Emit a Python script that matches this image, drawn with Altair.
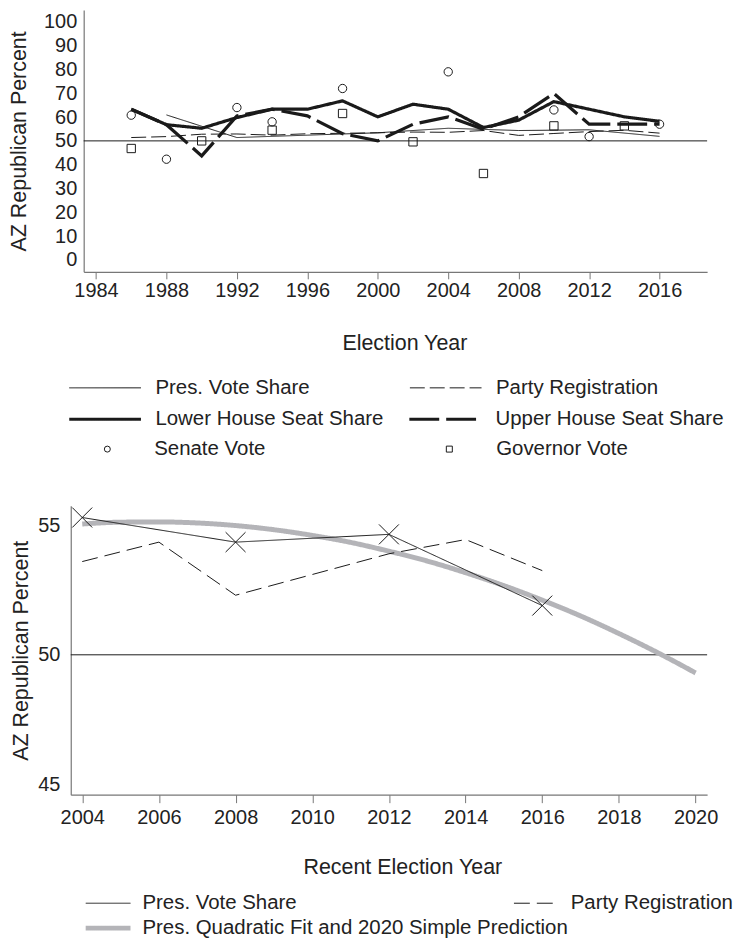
import altair as alt
import pandas as pd

FONT = "Liberation Sans"
INK = "#1a1a1a"
TXT = "#222222"
AXC = "#777777"
GREY = "#b4b4b8"

# ---------------- top panel data ----------------
pres_years = [1988, 1992, 1996, 2000, 2004, 2008, 2012, 2016]
pres_vote = [60.9, 51.4, 52.4, 53.4, 55.3, 54.35, 54.65, 51.9]

two_year = [1986, 1988, 1990, 1992, 1994, 1996, 1998, 2000,
            2002, 2004, 2006, 2008, 2010, 2012, 2014, 2016]
party_reg = [51.4, 51.8, 52.8, 52.9, 52.4, 53.0, 53.2, 53.4,
             53.7, 53.6, 54.35, 52.3, 53.1, 53.9, 54.45, 53.25]
lower_house = [63.3, 56.8, 55.3, 59.8, 63.3, 63.3, 66.8, 60.1,
               65.4, 63.3, 55.6, 58.7, 66.5, 63.3, 60.1, 58.2]
upper_house = [63.3, 56.8, 43.7, 60.5, 63.3, 60.5, 53.0, 50.0,
               57.0, 60.1, 54.9, 60.1, 69.9, 57.0, 57.0, 57.0]

senate_years = [1986, 1988, 1992, 1994, 1998, 2004, 2010, 2012, 2016]
senate_vote = [60.8, 42.3, 64.0, 58.0, 72.0, 79.0, 63.0, 51.8, 57.0]
governor_years = [1986, 1990, 1994, 1998, 2002, 2006, 2010, 2014]
governor_vote = [46.8, 50.0, 54.5, 61.5, 49.6, 36.3, 56.3, 56.3]

thin_names = ["Pres. Vote Share", "Party Registration"]
thick_names = ["Lower House Seat Share", "Upper House Seat Share"]
point_names = ["Senate Vote", "Governor Vote"]
top_year_domain = [1983.3, 2018.7]
top_pct_domain = [-5, 105]
top_year_ticks = [1984, 1988, 1992, 1996, 2000, 2004, 2008, 2012, 2016]
top_pct_ticks = [0, 10, 20, 30, 40, 50, 60, 70, 80, 90, 100]

# ---------------- bottom panel data ----------------
recent_pres_years = [2004, 2008, 2012, 2016]
recent_pres_vote = [55.3, 54.35, 54.65, 51.9]
recent_reg_years = [2004, 2006, 2008, 2010, 2012, 2014, 2016]
recent_reg = [53.6, 54.35, 52.3, 53.1, 53.9, 54.45, 53.25]
fit_years = [2004, 2005, 2006, 2007, 2008, 2009, 2010, 2011, 2012,
             2013, 2014, 2015, 2016, 2017, 2018, 2019, 2020]
fit_values = [55.05, 55.12, 55.13, 55.09, 54.99, 54.83, 54.61, 54.34, 54.0,
              53.62, 53.17, 52.67, 52.11, 51.5, 50.82, 50.09, 49.3]

recent_names = ["Pres. Vote Share", "Party Registration"]
fit_names = ["Pres. Quadratic Fit and 2020 Simple Prediction"]
bottom_year_domain = [2003.7, 2020.3]
bottom_pct_domain = [44.6, 55.75]
bottom_year_ticks = [2004, 2006, 2008, 2010, 2012, 2014, 2016, 2018, 2020]
bottom_pct_ticks = [45, 50, 55]
reference_level = [50]

# ---------------- tables ----------------
top_thin_df = pd.concat([
    pd.DataFrame({"year": pres_years, "pct": pres_vote, "series": thin_names[0]}),
    pd.DataFrame({"year": two_year, "pct": party_reg, "series": thin_names[1]}),
], ignore_index=True)
top_thick_df = pd.concat([
    pd.DataFrame({"year": two_year, "pct": lower_house, "series": thick_names[0]}),
    pd.DataFrame({"year": two_year, "pct": upper_house, "series": thick_names[1]}),
], ignore_index=True)
top_points_df = pd.concat([
    pd.DataFrame({"year": senate_years, "pct": senate_vote, "series": point_names[0]}),
    pd.DataFrame({"year": governor_years, "pct": governor_vote, "series": point_names[1]}),
], ignore_index=True)
bottom_thin_df = pd.concat([
    pd.DataFrame({"year": recent_pres_years, "pct": recent_pres_vote, "series": recent_names[0]}),
    pd.DataFrame({"year": recent_reg_years, "pct": recent_reg, "series": recent_names[1]}),
], ignore_index=True)
bottom_fit_df = pd.DataFrame({"year": fit_years, "pct": fit_values, "series": fit_names[0]})
bottom_pres_df = pd.DataFrame({"year": recent_pres_years, "pct": recent_pres_vote})
ref_df = pd.DataFrame({"pct": reference_level})
bottom_ref_df = pd.DataFrame({"pct": reference_level,
                              "x0": [bottom_year_domain[0]], "x1": [bottom_year_domain[1]]})


def legend(x, y, pad, sym_size, sym_width, label_off, stroke=INK, **kw):
    return alt.Legend(
        title=None, orient="none", legendX=x, legendY=y, columns=2,
        columnPadding=pad, rowPadding=4, symbolSize=sym_size,
        symbolStrokeWidth=sym_width, symbolStrokeColor=stroke, clipHeight=21,
        labelOffset=label_off, symbolOffset=0, labelFont=FONT,
        labelFontSize=20.5, labelColor=TXT, labelLimit=600, padding=0, **kw)


# ---------------- top panel ----------------
x_top = alt.X("year:Q",
              scale=alt.Scale(domain=top_year_domain, nice=False, zero=False),
              axis=alt.Axis(values=top_year_ticks, format="d", title="Election Year",
                            grid=False, tickSize=7, labelPadding=2, titlePadding=31.5,
                            titleX=322, labelFontSize=20, titleFontSize=21.5,
                            labelFlush=False, labelOverlap=False))
y_top = alt.Y("pct:Q",
              scale=alt.Scale(domain=top_pct_domain, nice=False, zero=False),
              axis=alt.Axis(values=top_pct_ticks, title="AZ Republican Percent",
                            grid=False, ticks=False, labelPadding=7, titlePadding=13,
                            labelFontSize=20, titleFontSize=21.5, labelFlush=False,
                            labelOverlap=False))

top_rule = alt.Chart(ref_df).mark_rule(color=INK, strokeWidth=1).encode(y=y_top)
top_thin = alt.Chart(top_thin_df).mark_line(color=INK, strokeWidth=1).encode(
    x=x_top, y=y_top,
    strokeDash=alt.StrokeDash("series:N",
                              scale=alt.Scale(domain=thin_names, range=[[1, 0], [15, 5]]),
                              legend=legend(-15, 369, 100, 5184, 1, 14,
                                            symbolType="stroke")))
top_thick = alt.Chart(top_thick_df).mark_line(color=INK, strokeWidth=3.2).encode(
    x=x_top, y=y_top,
    strokeDash=alt.StrokeDash("series:N",
                              scale=alt.Scale(domain=thick_names, range=[[1, 0], [30, 7]]),
                              legend=legend(-16.5, 400.5, 23.5, 5184, 3.2, 12.5,
                                            symbolType="stroke")))
top_pts = alt.Chart(top_points_df).mark_point(
    filled=False, color=INK, strokeWidth=1, size=70, opacity=1
).encode(x=x_top, y=y_top,
         shape=alt.Shape("series:N",
                         scale=alt.Scale(domain=point_names, range=["circle", "square"]),
                         legend=legend(13.5, 430.5, 173.4, 36, 1, 36.8,
                                       symbolFillColor="white")))

top = alt.layer(top_rule, top_thin, top_thick, top_pts).resolve_scale(
    strokeDash="independent").properties(width=626, height=263)

# ---------------- bottom panel ----------------
# plot areas of the two panels share their left edge, so the lower panel's
# x range starts 13 px further left and its y axis is offset by the same amount
x_bot = alt.X("year:Q",
              scale=alt.Scale(domain=bottom_year_domain, range=[-13, 626], nice=False,
                              zero=False),
              axis=alt.Axis(values=bottom_year_ticks, format="d", title="Recent Election Year",
                            grid=False, tickSize=8, labelPadding=4.5, titlePadding=29.5,
                            titleX=320, labelFontSize=20, titleFontSize=21.5,
                            labelFlush=False, labelOverlap=False))
y_bot = alt.Y("pct:Q",
              scale=alt.Scale(domain=bottom_pct_domain, nice=False, zero=False),
              axis=alt.Axis(values=bottom_pct_ticks, title="AZ Republican Percent",
                            grid=False, ticks=False, labelPadding=11, titlePadding=5,
                            offset=13, labelFontSize=20, titleFontSize=21.5,
                            labelFlush=False, labelOverlap=False))

bot_rule = alt.Chart(bottom_ref_df).mark_rule(color=INK, strokeWidth=1).encode(
    y=y_bot, x=alt.X("x0:Q", scale=alt.Scale(domain=bottom_year_domain, range=[-13, 626])),
    x2="x1:Q")
bot_fit = alt.Chart(bottom_fit_df).mark_line(
    color=GREY, strokeWidth=5, interpolate="monotone"
).encode(x=x_bot, y=y_bot,
         strokeDash=alt.StrokeDash("series:N",
                                   scale=alt.Scale(domain=fit_names, range=[[1, 0]]),
                                   legend=legend(-0.5, 413.5, 10, 2025, 5, 9.5,
                                                 stroke=GREY, symbolType="stroke")))
bot_thin = alt.Chart(bottom_thin_df).mark_line(color=INK, strokeWidth=1).encode(
    x=x_bot, y=y_bot,
    strokeDash=alt.StrokeDash("series:N",
                              scale=alt.Scale(domain=recent_names, range=[[1, 0], [16, 7]]),
                              legend=legend(1.5, 388.5, 217, 2025, 1, 11.5,
                                            symbolType="stroke")))
bot_x = alt.Chart(bottom_pres_df).mark_point(
    shape="M-1,-1L1,1M1,-1L-1,1", size=400, filled=False, color=INK, strokeWidth=1, opacity=1
).encode(x=x_bot, y=y_bot)

bottom = alt.layer(bot_rule, bot_fit, bot_thin, bot_x).resolve_scale(
    strokeDash="independent").properties(width=626, height=290)

chart = alt.vconcat(top, bottom, spacing=75).properties(
    padding={"left": 0, "right": 0, "top": 0, "bottom": 0}
).configure_view(stroke=None).configure_axis(
    labelFont=FONT, titleFont=FONT, labelColor=TXT, titleColor=TXT,
    titleFontWeight="normal", domainColor=AXC, tickColor=AXC, domainWidth=1.2
).configure_legend(labelFont=FONT)

chart.save("out.html", embed_options={"renderer": "svg", "actions": False})
